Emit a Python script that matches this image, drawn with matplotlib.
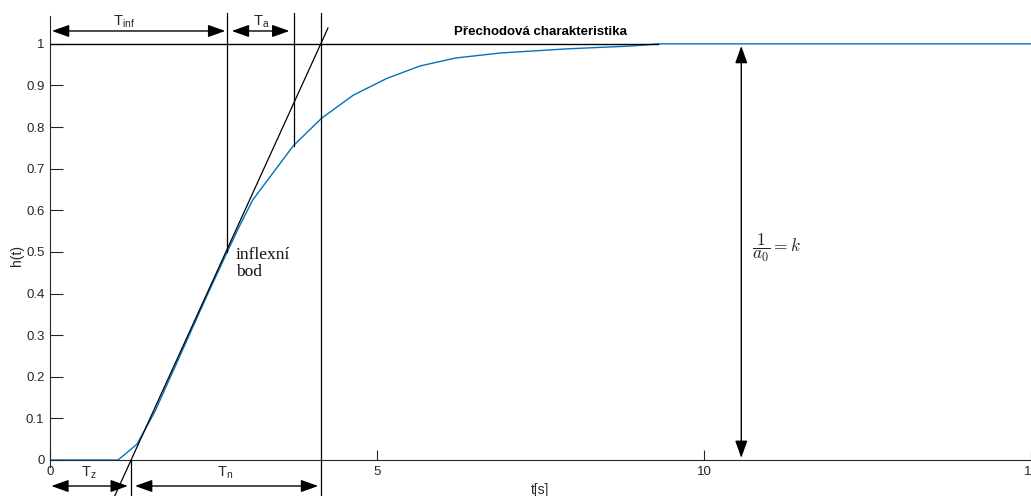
import matplotlib
matplotlib.use("Agg")
import matplotlib.pyplot as plt

plt.rcParams['font.family'] = ['Liberation Sans', 'DejaVu Sans']
plt.rcParams['mathtext.fontset'] = 'custom'
plt.rcParams['mathtext.rm'] = 'Liberation Sans'
plt.rcParams['mathtext.it'] = 'Liberation Sans:italic'

# step response data
t_data = [0, 1.04, 1.33, 1.6, 2.0, 2.4, 2.71, 2.9, 3.10, 3.72, 4.15, 4.64, 5.15,
          5.66, 6.2, 6.88, 7.9, 8.9, 9.3, 15]
h_data = [0, 0, 0.038, 0.115, 0.255, 0.395, 0.5, 0.563, 0.625, 0.755, 0.821, 0.877,
          0.917, 0.947, 0.966, 0.978, 0.988, 0.995, 1.0, 1.0]

# characteristic times
T_z = 1.24          # tangent crosses 0
T_infl = 2.71       # inflection point time
h_infl = 0.5        # inflection point value
T_a_end = 3.73      # end of T_a
h_a_end = 0.755     # curve value at T_a_end
T_n_end = 4.14      # tangent reaches 1
k_gain = 1.0
t_k_arrow = 10.57
t_ref_end = 9.3

x_ticks = [0, 5, 10, 15]
y_ticks = [0, 0.1, 0.2, 0.3, 0.4, 0.5, 0.6, 0.7, 0.8, 0.9, 1]
y_tick_labels = ['0', '0.1', '0.2', '0.3', '0.4', '0.5', '0.6', '0.7', '0.8', '0.9', '1']

W, H = 1031, 496
fig = plt.figure(figsize=(W / 100, H / 100), dpi=100)
ax = fig.add_axes([50 / W, 36 / H, 981 / W, 444 / H])

gray = '#262626'
ax.plot(t_data, h_data, color='#0072BD', lw=1.0, zorder=2)

ax.set_xlim(0, 15)
ax.set_ylim(0, 1.067)
ax.set_xticks(x_ticks)
ax.set_xticklabels([str(v) for v in x_ticks])
ax.set_yticks(y_ticks)
ax.set_yticklabels(y_tick_labels)
ax.tick_params(direction='in', length=7, width=0.8, colors=gray, labelsize=9.5, pad=4)
ax.tick_params(axis='y', length=9)
for s in ['top', 'right']:
    ax.spines[s].set_visible(False)
for s in ['left', 'bottom']:
    ax.spines[s].set_color(gray)
    ax.spines[s].set_linewidth(0.8)

ax.text(7.5, 1.029, 'Přechodová charakteristika', fontsize=9.5, fontweight='bold',
        ha='center', va='center', color='black')
ax.set_xlabel('t[s]', fontsize=10, color=gray)
ax.xaxis.set_label_coords(0.5, -0.052)
ax.set_ylabel('h(t)', fontsize=10, color=gray)
ax.yaxis.set_label_coords(-0.0265, 0.46)

# reference line at 1
ax.plot([0, t_ref_end], [k_gain, k_gain], color='black', lw=1.0, zorder=3)

# tangent at inflection
slope = 1.0 / (T_n_end - T_z)
tan_t = [0.97, 4.25]
ax.plot(tan_t, [slope * (v - T_z) for v in tan_t], color='black', lw=0.9, clip_on=False, zorder=3)

# vertical lines
top = 1.075
bottom = -0.087
ax.plot([T_infl, T_infl], [h_infl, top], color='black', lw=0.9, clip_on=False)
ax.plot([T_a_end, T_a_end], [h_a_end, top], color='black', lw=0.9, clip_on=False)
ax.plot([T_n_end, T_n_end], [bottom, top], color='black', lw=0.9, clip_on=False)
ax.plot([T_z, T_z], [0, bottom], color='black', lw=0.9, clip_on=False)
ax.plot([0, 0], [0, -0.017], color=gray, lw=0.8, clip_on=False)

astyle = '<|-|>,head_length=0.7,head_width=0.25'
def darrow(x1, y1, x2, y2):
    ax.annotate('', xy=(x2, y2), xytext=(x1, y1),
                arrowprops=dict(arrowstyle=astyle, color='black', lw=1.0,
                                mutation_scale=15, shrinkA=0, shrinkB=0),
                annotation_clip=False)

y_top_arrow = 1.031
darrow(0.03, y_top_arrow, T_infl - 0.03, y_top_arrow)
darrow(T_infl + 0.07, y_top_arrow, T_a_end - 0.07, y_top_arrow)
y_bot_arrow = -0.0625
darrow(0.02, y_bot_arrow, T_z - 0.05, y_bot_arrow)
darrow(T_z + 0.06, y_bot_arrow, T_n_end - 0.04, y_bot_arrow)
darrow(t_k_arrow, 0.005, t_k_arrow, 0.995)

ax.text(1.13, 1.053, r'$\mathrm{T_{inf}}$', fontsize=10.5, ha='center', va='center', color=gray)
ax.text(3.23, 1.053, r'$\mathrm{T_{a}}$', fontsize=10.5, ha='center', va='center', color=gray)
ax.text(0.6, -0.030, r'$\mathrm{T_{z}}$', fontsize=10.5, ha='center', va='center', color=gray)
ax.text(2.68, -0.030, r'$\mathrm{T_{n}}$', fontsize=10.5, ha='center', va='center', color=gray)

ax.text(2.84, 0.512, 'inflexní\nbod', fontsize=12.5, family='Liberation Serif',
        ha='left', va='top', linespacing=1.05, color='#111111')
t_k = ax.text(10.73, 0.509, r'$\dfrac{1}{a_0} = k$', fontsize=12.5, ha='left', va='center',
              color='#222222')
t_k.set_math_fontfamily('cm')

fig.savefig('out.png', dpi=100)
